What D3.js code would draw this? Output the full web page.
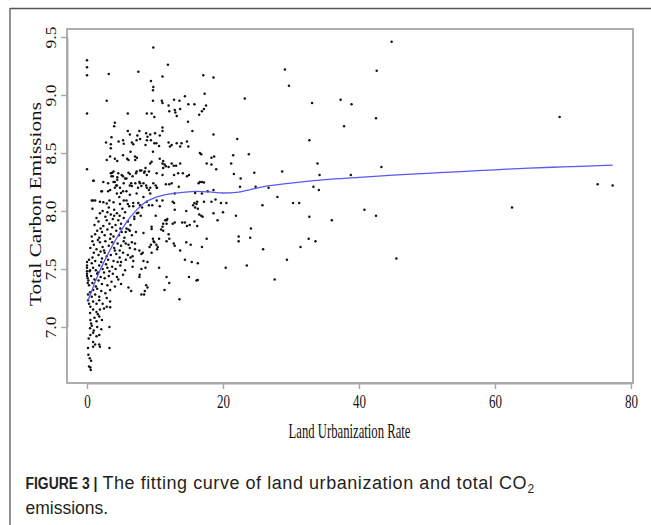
<!DOCTYPE html>
<html>
<head>
<meta charset="utf-8">
<script src="https://cdn.jsdelivr.net/npm/d3@7"></script>
<style>
  html, body { margin: 0; padding: 0; background: #ffffff; }
  svg { display: block; }
</style>
</head>
<body>
<svg id="chart" width="651" height="525"></svg>
<script>
// ---------------- data ----------------
const xTicks = [0, 20, 40, 60, 80];
const yTicks = [7.0, 7.5, 8.0, 8.5, 9.0, 9.5];
const xTitle = "Land Urbanization Rate";
const yTitle = "Total Carbon Emissions";

// fitted (loess) curve
const curveRate = [0.05, 0.5, 1, 2, 3, 4, 5, 6, 7, 8, 9, 10, 12, 14, 16, 18, 20, 22, 24, 26, 30, 35, 40, 45, 50, 55, 60, 65, 70, 77.3];
const curveEmission = [7.22, 7.28, 7.36, 7.50, 7.62, 7.73, 7.83, 7.92, 7.99, 8.05, 8.09, 8.115, 8.145, 8.16, 8.17, 8.165, 8.155, 8.16, 8.185, 8.21, 8.24, 8.27, 8.29, 8.31, 8.325, 8.34, 8.355, 8.37, 8.38, 8.395];

// scatter observations: [land urbanization rate, total carbon emissions]
const sparsePoints = [
 [44.8,9.46],[29.1,9.22],[29.7,9.08],[42.6,9.21],[23.2,8.97],[33.1,8.93],[37.3,8.96],[38.9,8.92],[42.5,8.80],[37.8,8.73],
 [69.5,8.81],[22.1,8.62],[32.7,8.61],[21.5,8.48],[23.8,8.49],[21.2,8.41],[33.9,8.41],[43.3,8.38],[28.7,8.34],[24.6,8.33],
 [21.6,8.32],[34.2,8.31],[38.8,8.31],[22.6,8.28],[22.5,8.21],[24.8,8.21],[26.7,8.20],[33.3,8.21],[34.1,8.18],[75.1,8.23],
 [77.3,8.22],[28.0,8.12],[19.7,8.07],[20.5,8.07],[20.0,7.99],[25.8,8.05],[30.3,8.07],[31.2,8.07],[21.9,7.96],[32.7,7.95],
 [40.8,8.01],[42.5,7.96],[62.5,8.03],[36.0,7.92],[24.1,7.85],[22.3,7.78],[22.3,7.74],[24.0,7.77],[31.4,7.69],[32.6,7.76],
 [33.6,7.74],[25.9,7.67],[20.4,7.51],[23.5,7.53],[29.4,7.58],[27.6,7.41],[45.5,7.59]
];
const midPoints = [
 [0,9.30],[0,9.24],[0,9.17],[3.2,9.18],[2.9,8.95],[0,8.84],[7.55,9.20],[9.75,9.41],[11.9,9.26],[11.1,9.16],
 [17.1,9.17],[18.6,9.15],[9.4,9.12],[9.75,9.07],[9.7,9.04],[17.3,9.01],[14.4,8.99],[9.7,8.95],[11.0,8.95],[11.1,8.93],
 [12.8,8.96],[12.0,8.91],[13.6,8.95],[14.9,8.92],[15.8,8.92],[17.5,8.91],[17.2,8.88],[16.9,8.86],[16.5,8.83],[12.1,8.86],
 [12.9,8.87],[13.0,8.85],[13.7,8.88],[6.0,8.84],[8.8,8.84],[9.5,8.84],[9.9,8.81],[13.2,8.82],[4.1,8.76],[4.0,8.73],
 [14.85,8.77],[11.1,8.72],[11.1,8.69],[15.5,8.69],[6.0,8.69],[6.3,8.66],[7.7,8.69],[7.4,8.65],[8.7,8.67],[8.9,8.64],
 [9.3,8.66],[10.0,8.67],[10.7,8.65],[18.6,8.66],[3.6,8.635],[2.8,8.59],[3.5,8.575],[4.65,8.60],[5.3,8.61],[5.4,8.58],
 [6.6,8.59],[6.8,8.575],[7.3,8.61],[7.8,8.62],[8.6,8.57],[9.4,8.61],[9.9,8.585],[10.6,8.56],[12.0,8.59],[12.45,8.57],
 [13.2,8.585],[13.7,8.555],[14.7,8.60],[14.9,8.555],[3.5,8.54],[6.4,8.51],[9.7,8.51],[16.8,8.49],[18.3,8.46],[18.7,8.47],
 [2.9,8.44],[3.4,8.47],[4.1,8.45],[4.45,8.43],[5.3,8.48],[5.9,8.45],[7.06,8.47],[6.1,8.44],[7.35,8.46],[7.1,8.44],
 [10.7,8.45],[11.2,8.43],[9.3,8.41],[9.5,8.425],[12.75,8.39],[12.45,8.41],[11.6,8.385],[11.2,8.37],[13.1,8.39],[12.0,8.38],
 [17.6,8.41],[18.3,8.40],[16.6,8.50],[19.0,8.36],[0,8.36],[0.9,8.26],[12.2,8.555],[10.2,8.585],[8.8,8.61],[13.9,8.585],
 [3.5,8.325],[3.8,8.30],[4.1,8.25],[4.45,8.27],[5.1,8.31],[5.4,8.24],[5.8,8.28],[6.3,8.22],[6.7,8.30],[7.2,8.325],
 [7.8,8.35],[8.4,8.33],[7.7,8.25],[8.3,8.24],[8.6,8.37],[9.1,8.34],[11.1,8.41],[11.4,8.40],[13.7,8.41],[10.25,8.325],
 [11.1,8.31],[12.8,8.31],[13.4,8.325],[14.1,8.325],[14.7,8.30],[15.0,8.31],[16.4,8.24],[16.9,8.25],[17.2,8.245],[18.6,8.18],
 [16.6,8.25],[12.45,8.24],[11.6,8.23],[12.1,8.23],[13.5,8.21],[6.5,8.24],[7.8,8.24],[8.8,8.20],[9.1,8.18],[10.1,8.22],
 [10.3,8.20],[15.9,8.155],[16.9,8.15],[17.75,8.17],[18.9,8.10],[12.9,8.15],[11.1,8.09],[12.6,8.08],[15.8,8.07],[16.1,8.06],
 [18.3,8.08],[6.0,8.06],[6.2,8.04],[9.1,8.05],[9.6,8.05],[12.8,8.07],[12.9,8.01],[14.6,8.00],[15.6,8.05],[15.9,8.03],
 [16.2,8.08],[16.3,8.02],[17.2,8.08],[7.55,8.07],[8.1,8.03],[6.8,8.04],[3.7,8.33],[3.6,8.30],[4.45,8.29],[3.9,8.25],
 [4.3,8.22],[4.85,8.20],[5.3,8.30],[6.1,8.33],[2.2,8.17],[3.1,8.17],[4.1,8.20],[5.0,8.155],[5.8,8.17],[1.2,8.09],
 [2.4,8.075],[3.3,8.09],[3.9,8.075],[4.75,8.12],[5.4,8.09],[3.9,8.34],[4.6,8.325],[5.6,8.28],[6.3,8.32],[7.3,8.34],
 [8.0,8.35],[8.5,8.34],[8.8,8.31],[2.4,8.25],[3.1,8.24],[4.4,8.22],[6.6,8.215],[7.1,8.24],[7.5,8.20],[8.0,8.215],
 [8.7,8.22],[9.3,8.20],[9.75,8.24],[10.25,8.20],[3.4,8.18],[4.4,8.15],[5.3,8.17],[6.3,8.14],[7.3,8.15],[8.3,8.12],
 [9.3,8.15],[0.9,8.09],[1.9,8.08],[2.9,8.065],[4.85,8.06],[5.8,8.09],[6.8,8.07],[7.8,8.05],[8.8,8.08],[10.25,8.09],
 [10.7,8.04],[0.7,8.09],[2.1,8.17],[1.0,8.26]
];
const densePoints = [
 [7.55,7.985],[7.9,7.96],[10.1,7.96],[16.5,7.97],[16.8,7.96],[17.0,7.95],[18.6,7.98],[19.2,7.92],[8.3,7.81],[9.5,7.865],
 [9.5,7.845],[10.9,7.84],[11.1,7.865],[11.2,7.89],[11.5,7.92],[11.7,7.89],[11.8,7.93],[14.0,7.90],[14.4,7.90],[14.7,7.87],
 [15.1,7.88],[15.8,7.91],[16.2,7.87],[17.6,7.76],[12.1,7.76],[11.7,7.74],[12.75,7.72],[12.9,7.70],[13.7,7.66],[14.6,7.73],
 [15.25,7.71],[16.9,7.69],[9.7,7.76],[9.9,7.73],[10.2,7.71],[10.3,7.67],[10.4,7.69],[9.4,7.71],[14.4,7.58],[15.4,7.56],
 [16.3,7.55],[10.6,7.51],[8.9,7.56],[8.0,7.50],[7.7,7.43],[11.7,7.43],[12.1,7.38],[15.0,7.43],[16.1,7.40],[16.3,7.405],
 [8.7,7.36],[8.9,7.34],[8.5,7.31],[11.4,7.32],[8.0,7.28],[8.4,7.28],[13.6,7.24],[6.1,7.34],[6.5,7.31],[5.7,7.72],
 [6.1,7.71],[6.6,7.73],[7.06,7.72],[6.3,7.68],[7.06,7.67],[6.0,7.62],[6.7,7.61],[7.7,7.66],[8.2,7.64],[6.8,7.57],
 [6.7,7.52],[7.75,7.45],[7.35,7.98],[6.96,7.95],[5.8,7.85],[6.1,7.84],[5.7,7.82],[6.3,7.83],[6.96,7.93],[6.4,7.88],
 [12.6,7.89],[12.9,7.90],[11.7,7.92],[11.2,7.83],[12.0,7.80],[9.8,7.74],[10.6,7.76],[9.2,7.69],[9.5,7.64],[8.6,7.51],
 [8.3,7.57],[8.0,7.63],
 [0.5,6.65],[0.3,6.66],[0.55,6.63],[0.2,6.76],[0.4,6.73],[0.6,6.71],[0.15,6.82],[0.9,6.87],[1.2,6.85],[0.9,6.83],
 [1.8,6.85],[1.9,6.83],[3.3,6.82],[0.5,6.93],[0.9,6.95],[1.4,6.92],[1.8,6.93],[0.45,6.99],[0.7,7.01],[1.5,7.00],
 [2.1,6.98],[3.3,7.00],[0.5,7.06],[1.1,7.08],[1.8,7.09],[1.4,7.05],[0.45,7.12],[0.9,7.15],[1.4,7.13],[1.9,7.15],
 [2.5,7.16],[2.9,7.175],[3.4,7.17],[0.3,7.20],[0.9,7.22],[1.4,7.20],[0.5,7.175],[1.8,7.23],[2.3,7.20],[2.9,7.25],
 [3.4,7.22],[0.7,7.26],[0.15,7.23],[0.45,7.30],[0.9,7.32],[1.5,7.33],[2.1,7.31],[2.7,7.29],[3.4,7.32],[0.15,7.28],
 [1.2,7.28],[1.8,7.26],[0,7.53],[0,7.51],[0.45,7.49],[0.6,7.03],[1.0,6.97],[0.25,6.90],[1.6,7.11],[2.2,7.06],
 [0,7.56],[0,7.48],[0,7.44],[0.1,7.38],
 [0.3,7.36],[0.8,7.38],[1.3,7.35],[1.7,7.40],[2.2,7.37],[2.6,7.42],[3.0,7.36],[3.6,7.39],[4.1,7.35],[4.6,7.41],
 [5.0,7.37],[0.1,7.42],[0.6,7.44],[1.1,7.41],[1.5,7.46],[2.0,7.43],[2.5,7.47],[3.2,7.44],[3.8,7.46],[4.4,7.43],
 [5.3,7.45],[0.2,7.40],
 [0.4,7.48],[0.9,7.51],[1.3,7.49],[1.8,7.53],[2.3,7.50],[2.8,7.54],[3.3,7.48],[3.7,7.52],[4.2,7.50],[4.9,7.53],
 [5.6,7.49],[0.7,7.55],[1.6,7.47],[2.1,7.56],[3.0,7.51],[4.5,7.56],[0.0,7.46],
 [0.3,7.58],[0.8,7.60],[1.2,7.57],[1.7,7.62],[2.2,7.59],[2.6,7.64],[3.1,7.58],[3.5,7.62],[3.9,7.57],[4.3,7.63],
 [4.8,7.60],[5.3,7.64],[5.7,7.58],[1.0,7.64],[2.0,7.65],[2.9,7.61],[4.1,7.66],[5.0,7.56],[6.4,7.60],
 [0.5,7.68],[1.0,7.71],[1.4,7.67],[1.9,7.73],[2.3,7.69],[2.7,7.74],[3.2,7.70],[3.7,7.73],[4.0,7.68],[4.5,7.72],
 [5.0,7.70],[5.4,7.74],[1.6,7.75],[2.5,7.66],[3.4,7.76],[4.8,7.66],[0.8,7.74],
 [0.7,7.78],[1.2,7.80],[1.8,7.77],[2.2,7.82],[2.6,7.79],[3.0,7.84],[3.5,7.80],[3.9,7.78],[4.3,7.83],[4.7,7.79],
 [5.1,7.82],[5.5,7.77],[2.0,7.85],[3.7,7.86],[4.9,7.85],[1.5,7.83],[6.6,7.79],[7.2,7.82],
 [1.1,7.88],[1.7,7.91],[2.4,7.87],[2.9,7.92],[3.3,7.89],[3.8,7.93],[4.2,7.88],[4.6,7.92],[5.0,7.89],[5.4,7.94],
 [2.7,7.95],[4.0,7.96],[1.4,7.94],[3.5,7.97],[6.0,7.91],
 [1.9,7.98],[3.0,7.99],[4.4,7.98],[4.8,7.96],[5.6,7.99],[2.3,8.00],[3.2,8.03],[4.0,8.01],[5.2,8.02],[0.8,8.02]
];

// ---------------- layout ----------------
const svg = d3.select("#chart");
const box = { left: 67, right: 633, top: 29, bottom: 383 };
const serif = "'Liberation Serif', 'Times New Roman', serif";
const sans = "'Liberation Sans', Arial, Helvetica, sans-serif";

const x = d3.scaleLinear().domain([0, 80]).range([87, 631]);
const y = d3.scaleLinear().domain([7, 9.5]).range([327, 37]);

// outer figure frame (top and left rules)
svg.append("line").attr("x1", 10).attr("x2", 651).attr("y1", 8.5).attr("y2", 8.5)
  .attr("stroke", "#555").attr("stroke-width", 1.3);
svg.append("line").attr("x1", 10).attr("x2", 10).attr("y1", 8).attr("y2", 525)
  .attr("stroke", "#555").attr("stroke-width", 1.3);

// plot box
svg.append("rect")
  .attr("x", box.left).attr("y", box.top)
  .attr("width", box.right - box.left).attr("height", box.bottom - box.top)
  .attr("fill", "none").attr("stroke", "#a6a6a6").attr("stroke-width", 1.8);

// x axis
const xAxis = d3.axisBottom(x).tickValues(xTicks).tickSize(6).tickSizeOuter(0).tickFormat(d3.format("d"));
const gx = svg.append("g").attr("transform", `translate(0,${box.bottom})`).call(xAxis);
gx.select(".domain").attr("stroke", "#a6a6a6").attr("stroke-width", 1.8);
gx.selectAll(".tick line").attr("stroke", "#a6a6a6").attr("stroke-width", 1.4);
gx.selectAll(".tick text")
  .attr("y", 0).attr("dy", 0)
  .attr("transform", "translate(0,25) scale(1,1.5)")
  .attr("font-family", serif)
  .attr("font-size", 13).attr("fill", "#111");

// y axis
const yAxis = d3.axisLeft(y).tickValues(yTicks).tickSize(6).tickSizeOuter(0).tickFormat(d3.format(".1f"));
const gy = svg.append("g").attr("transform", `translate(${box.left},0)`).call(yAxis);
gy.select(".domain").attr("stroke", "#a6a6a6").attr("stroke-width", 1.8);
gy.selectAll(".tick line").attr("stroke", "#a6a6a6").attr("stroke-width", 1.4);
gy.selectAll(".tick text")
  .attr("x", 0).attr("dy", 0)
  .attr("transform", "translate(-11.5,0) rotate(-90) scale(1.25,1)")
  .attr("text-anchor", "middle")
  .attr("font-family", serif)
  .attr("font-size", 14).attr("fill", "#111");

// axis titles
svg.append("text")
  .attr("transform", `translate(349.5,438) scale(1,1.7)`)
  .attr("text-anchor", "middle")
  .attr("font-family", serif)
  .attr("font-size", 12.7).attr("fill", "#111")
  .text(xTitle);

svg.append("text")
  .attr("transform", `translate(41,${(box.top + box.bottom) / 2 - 2}) rotate(-90) scale(1.33,1)`)
  .attr("text-anchor", "middle")
  .attr("font-family", serif)
  .attr("font-size", 16).attr("fill", "#111")
  .text(yTitle);

// scatter points
const allPoints = sparsePoints.concat(midPoints, densePoints);
svg.append("g").selectAll("circle")
  .data(allPoints)
  .join("circle")
  .attr("cx", d => x(d[0]))
  .attr("cy", d => y(d[1]))
  .attr("r", 1.25)
  .attr("fill", "#111");

// fitted curve
const curveData = curveRate.map((r, i) => [r, curveEmission[i]]);
svg.append("path")
  .datum(curveData)
  .attr("fill", "none")
  .attr("stroke", "#5858f5")
  .attr("stroke-width", 1.3)
  .attr("d", d3.line().x(d => x(d[0])).y(d => y(d[1])).curve(d3.curveMonotoneX));

// caption
const bold = svg.append("text")
  .attr("font-family", sans).attr("font-size", 17).attr("font-weight", "bold")
  .attr("fill", "#231f20")
  .text("FIGURE 3 |");
const bw = bold.node().getComputedTextLength();
bold.attr("transform", `translate(25.5,488.5) scale(${72 / bw},1)`);

const line1 = svg.append("text")
  .attr("x", 102.5).attr("y", 488.5)
  .attr("font-family", sans).attr("font-size", 18)
  .attr("fill", "#231f20")
  .attr("textLength", 526.5 - 102.5).attr("lengthAdjust", "spacing")
  .text("The fitting curve of land urbanization and total CO");
svg.append("text")
  .attr("x", 527.5).attr("y", 493)
  .attr("font-family", sans).attr("font-size", 12)
  .attr("fill", "#231f20")
  .text("2");
svg.append("text")
  .attr("x", 25.5).attr("y", 513.5)
  .attr("font-family", sans).attr("font-size", 17.5)
  .attr("fill", "#231f20")
  .text("emissions.");
</script>
</body>
</html>
